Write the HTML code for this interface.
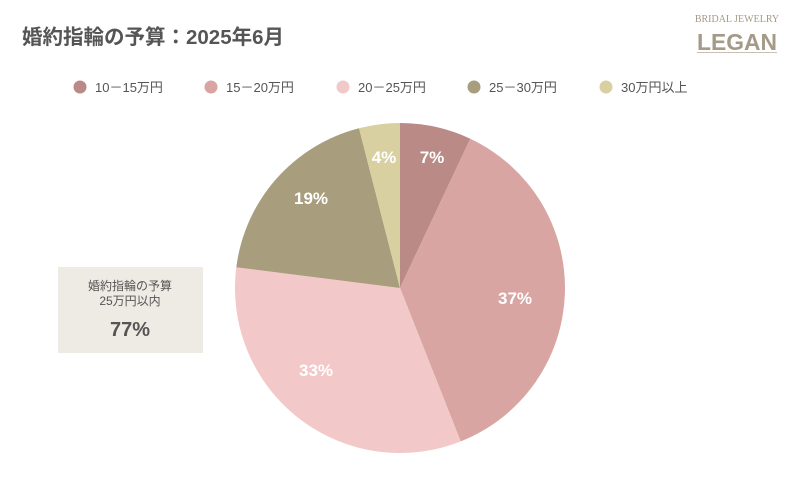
<!DOCTYPE html>
<html><head><meta charset="utf-8"><style>
body{margin:0;width:800px;height:500px;background:#fff;overflow:hidden;font-family:"Liberation Sans","Noto Sans CJK JP",sans-serif;}
</style></head><body>
<svg width="800" height="500" xmlns="http://www.w3.org/2000/svg" style="position:absolute;left:0;top:0">
<text x="22" y="44" font-size="20.5" font-weight="bold" fill="#555" font-family="Liberation Sans, Noto Sans CJK JP, sans-serif">婚約指輪の予算：2025年6月</text>
<text x="737" y="22" font-size="10" fill="#a49a88" text-anchor="middle" font-family="Liberation Serif, serif">BRIDAL JEWELRY</text>
<text x="737" y="50" font-size="23" font-weight="bold" fill="#a49a88" text-anchor="middle" font-family="Liberation Sans, sans-serif" textLength="80" lengthAdjust="spacingAndGlyphs">LEGAN</text>
<rect x="697" y="52" width="80" height="1" fill="#c8c0b0"/>
<g font-size="13" fill="#555" font-family="Liberation Sans, Noto Sans CJK JP, sans-serif">
<circle cx="80" cy="87" r="6.5" fill="#b98a86"/><text x="95" y="92">10－15万円</text>
<circle cx="211" cy="87" r="6.5" fill="#d8a5a3"/><text x="226" y="92">15－20万円</text>
<circle cx="343" cy="87" r="6.5" fill="#f2c9c8"/><text x="358" y="92">20－25万円</text>
<circle cx="474" cy="87" r="6.5" fill="#a89d7c"/><text x="489" y="92">25－30万円</text>
<circle cx="606" cy="87" r="6.5" fill="#d8d0a0"/><text x="621" y="92">30万円以上</text>
</g>
<path d="M400,288 L400,123 A165,165 0 0 1 470.3,138.7Z" fill="#b98a86"/>
<path d="M400,288 L470.3,138.7 A165,165 0 0 1 460.7,441.4Z" fill="#d8a5a3"/>
<path d="M400,288 L460.7,441.4 A165,165 0 0 1 236.3,267.3Z" fill="#f2c9c8"/>
<path d="M400,288 L236.3,267.3 A165,165 0 0 1 359,128.2Z" fill="#a89d7c"/>
<path d="M400,288 L359,128.2 A165,165 0 0 1 400,123Z" fill="#d8d0a0"/>
<g font-size="17" font-weight="bold" fill="#fff" text-anchor="middle">
<text x="432" y="163">7%</text><text x="515" y="304">37%</text><text x="316" y="376">33%</text><text x="311" y="204">19%</text><text x="384" y="163">4%</text>
</g>
<rect x="58" y="267" width="145" height="86" fill="#eeeae4"/>
<g fill="#555" text-anchor="middle" font-family="Liberation Sans, Noto Sans CJK JP, sans-serif">
<text x="130" y="290" font-size="12">婚約指輪の予算</text>
<text x="130" y="305" font-size="12">25万円以内</text>
<text x="130" y="336" font-size="20" font-weight="bold">77%</text>
</g>
</svg>
</body></html>
